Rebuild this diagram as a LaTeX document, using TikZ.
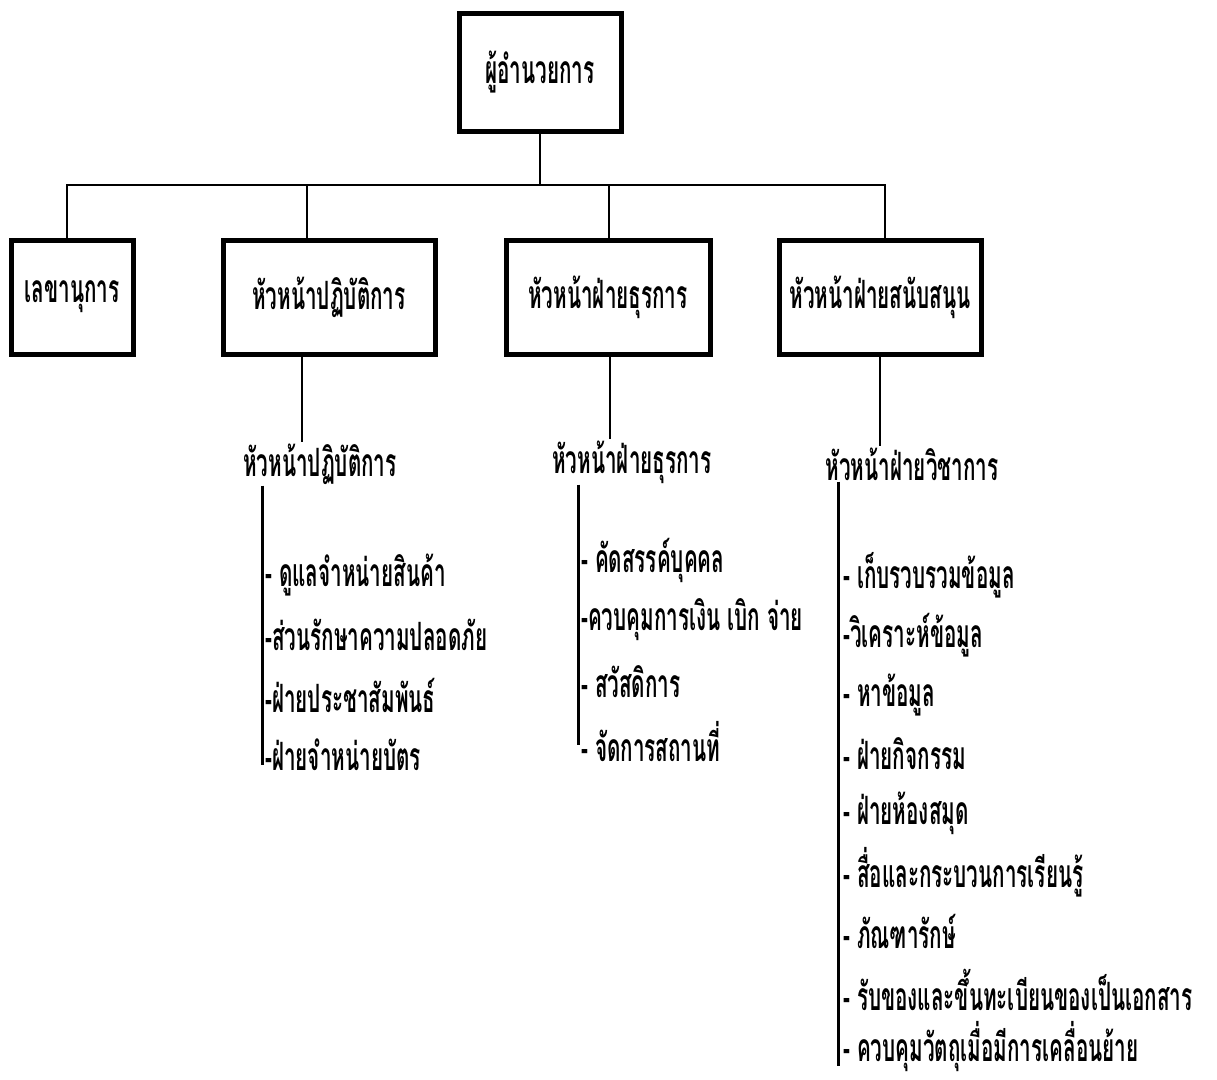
\documentclass[tikz,border=0pt]{standalone}
\usepackage{fontspec}
\newfontfamily\thai[Script=Thai,FakeStretch=0.53]{Loma}
\begin{document}
\begin{tikzpicture}[x=1pt,y=-1pt,
  box/.style={draw=black,line width=5pt,minimum width=#1,minimum height=114pt,inner sep=0pt,font=\thai\bfseries\fontsize{39}{42}\selectfont},
  box/.default=200pt,
  head/.style={inner sep=1pt,font=\thai\bfseries\fontsize{39}{42}\selectfont},
  item/.style={anchor=west,inner sep=0pt,font=\thai\bfseries\fontsize{39}{42}\selectfont},
  conn/.style={line width=2pt},
  list/.style={line width=3pt}]
\useasboundingbox[fill=white] (0,0) rectangle (1217,1079);
% boxes
\node[box=162pt,minimum height=118pt] (top) at (540,72) {ผู้อำนวยการ};
\node[box=122pt] (b1) at (72,297) {เลขานุการ};
\node[box=212pt] (b2) at (329,297) {หัวหน้าปฏิบัติการ};
\node[box=204pt] (b3) at (608,297) {หัวหน้าฝ่ายธุรการ};
\node[box=202pt] (b4) at (880,297) {หัวหน้าฝ่ายสนับสนุน};
% bus
\coordinate (bus) at (540,185);
\draw[conn] (top.south) -- (bus);
\draw[conn] (b1.north -| 67,0) |- (bus);
\draw[conn] (b2.north -| 307,0) |- (bus);
\draw[conn] (b3.north -| 609,0) |- (bus);
\draw[conn] (b4.north -| 885,0) |- (bus);
% sub headers
\node[head] (h2) at (320,464) {หัวหน้าปฏิบัติการ};
\node[head] (h3) at (632,462) {หัวหน้าฝ่ายธุรการ};
\node[head] (h4) at (912,464) {หัวหน้าฝ่ายวิชาการ};
\draw[conn] (b2.south -| 302,0) -- (h2.north -| 302,0);
\draw[conn] (b3.south -| 610,0) -- (h3.north -| 610,0);
\draw[conn] (b4.south -| 880,0) -- (h4.north -| 880,0);
% list column 2
\coordinate (e2) at (262,765);
\draw[list] (h2.south -| e2) -- (e2);
\node[item] (i21) at (265,575) {- ดูแลจำหน่ายสินค้า};
\node[item] (i22) at (265,635) {-ส่วนรักษาความปลอดภัย};
\node[item] (i23) at (265,695) {-ฝ่ายประชาสัมพันธ์};
\node[item] (i24) at (265,755) {-ฝ่ายจำหน่ายบัตร};
% list column 3
\coordinate (e3) at (578,745);
\draw[list] (h3.south -| e3) -- (e3);
\node[item] (i31) at (581,560) {- คัดสรรค์บุคคล};
\node[item] (i32) at (581,620) {-ควบคุมการเงิน เบิก จ่าย};
\node[item] (i33) at (581,682) {- สวัสดิการ};
\node[item] (i34) at (581,742) {- จัดการสถานที่};
% list column 4
\coordinate (e4) at (838,1066);
\draw[list] (h4.south -| e4) -- (e4);
\node[item] (i41) at (843,575) {- เก็บรวบรวมข้อมูล};
\node[item] (i42) at (843,635) {-วิเคราะห์ข้อมูล};
\node[item] (i43) at (843,695) {- หาข้อมูล};
\node[item] (i44) at (843,754) {- ฝ่ายกิจกรรม};
\node[item] (i45) at (843,813) {- ฝ่ายห้องสมุด};
\node[item] (i46) at (843,872) {- สื่อและกระบวนการเรียนรู้};
\node[item] (i47) at (843,931) {- ภัณฑารักษ์};
\node[item] (i48) at (843,990) {- รับของและขึ้นทะเบียนของเป็นเอกสาร};
\node[item] (i49) at (843,1047) {- ควบคุมวัตถุเมื่อมีการเคลื่อนย้าย};
\end{tikzpicture}
\end{document}
